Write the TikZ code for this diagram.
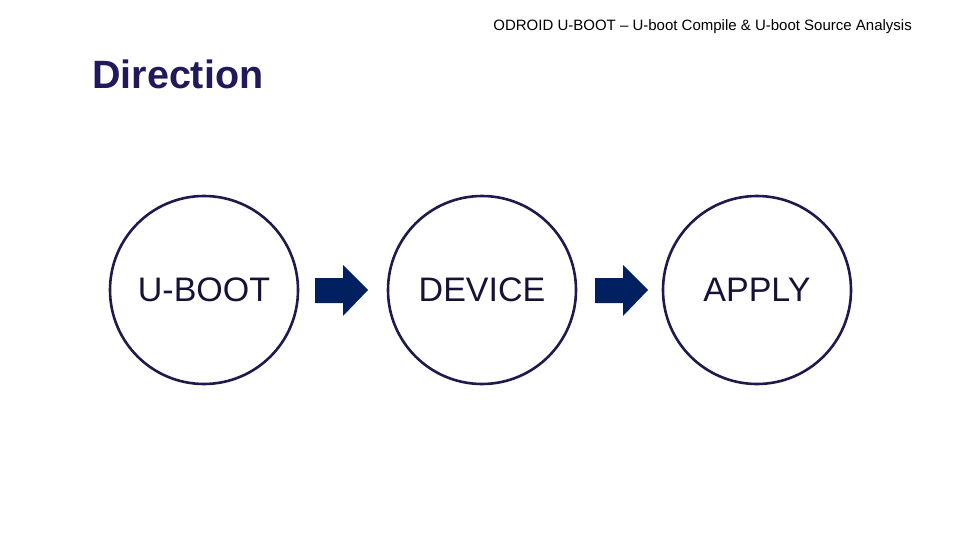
\documentclass[tikz,border=0pt]{standalone}
\usepackage{fontspec}
\setmainfont{Liberation Sans}
\definecolor{navy}{HTML}{1F1A4D}
\definecolor{arr}{HTML}{002060}
\definecolor{ttl}{HTML}{201A5C}
\begin{document}
\begin{tikzpicture}[x=1pt,y=-1pt,
  ring/.style={circle,draw=navy,line width=2.6pt,minimum size=188pt,inner sep=0pt,font=\fontsize{34}{38}\selectfont,text=navy!70!black}]
\useasboundingbox (0,0) rectangle (960,540);
\node[anchor=east,font=\fontsize{15}{17}\selectfont,inner sep=0pt] (hdr) at (912,27) {ODROID U-BOOT -- U-boot Compile \& U-boot Source Analysis};
\node[anchor=west,font=\bfseries\fontsize{39.5}{44}\selectfont,text=ttl,inner sep=0pt] (dir) at (92,74) {Direction};
\node[ring] (a) at (204,290) {U-BOOT};
\node[ring] (b) at (482,290) {DEVICE};
\node[ring] (c) at (757,290) {APPLY};
\foreach \x/\n in {315/p,595/q}{
  \coordinate (\n) at (\x,290);
  \fill[arr] (\x,278) -- (\x+28,278) -- (\x+28,265) -- (\x+53,290) -- (\x+28,316) -- (\x+28,303) -- (\x,303) -- cycle;
}
\end{tikzpicture}
\end{document}
